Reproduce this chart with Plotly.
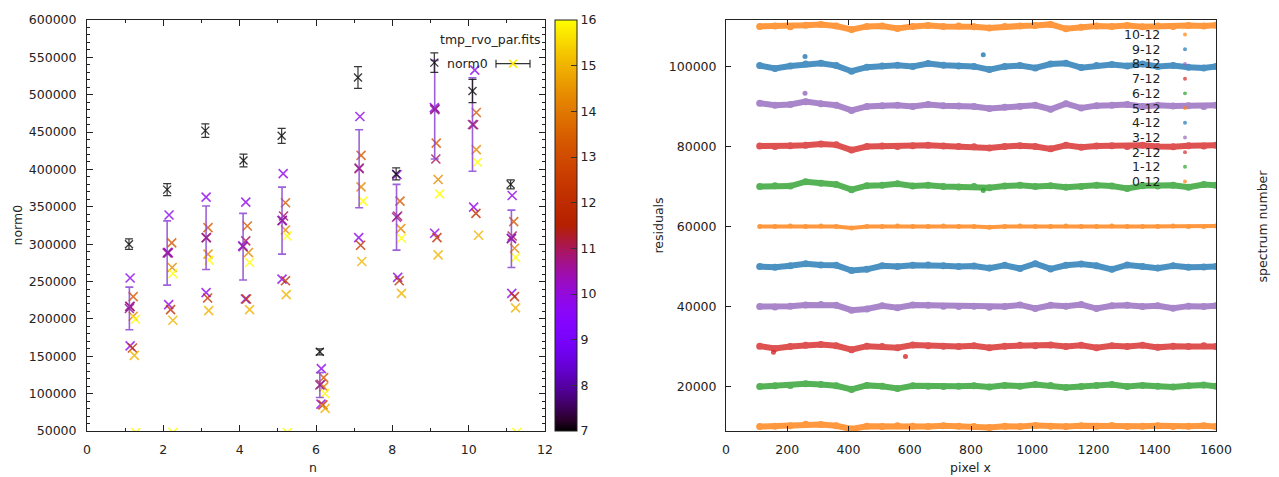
import math
import plotly.graph_objects as go

# ---------------- Left panel data (norm0 vs n) ----------------
norm0_x = [1.1, 2.1, 3.1, 4.1, 5.1, 6.1, 7.1, 8.1, 9.1, 10.1, 11.1]
norm0_y = [300000, 373000, 452000, 412000, 445000, 156000, 523000, 394000, 543000, 505000, 380000]
norm0_err = [7000, 8000, 9000, 8500, 10000, 4000, 14500, 8000, 13000, 15500, 6000]

mean_x = [1.11, 2.10, 3.12, 4.09, 5.11, 6.10, 7.13, 8.11, 9.11, 10.10, 11.12]
mean_y = [214000, 288200, 308600, 296600, 331500, 111500, 400900, 336000, 480000, 460200, 307200]
mean_err = [28500, 43000, 42400, 44600, 44800, 16600, 52200, 44000, 66000, 62600, 38400]

pt_x = [1.13, 1.21, 1.12, 1.13, 1.21, 1.27, 1.13, 1.19, 1.24, 1.28,
        2.15, 2.13, 2.12, 2.22, 2.23, 2.25, 2.14, 2.19, 2.25, 2.25,
        3.12, 3.13, 3.17, 3.17, 3.20, 3.12, 3.16, 3.19,
        4.16, 4.20, 4.16, 4.08, 4.23, 4.26, 4.15, 4.18, 4.26,
        5.14, 5.20, 5.15, 5.12, 5.20, 5.24, 5.11, 5.20, 5.22, 5.25,
        6.14, 6.13, 6.20, 6.20, 6.23, 6.13, 6.18, 6.24,
        7.15, 7.18, 7.13, 7.18, 7.23, 7.12, 7.17, 7.20,
        8.12, 8.20, 8.14, 8.22, 8.24, 8.14, 8.18, 8.24,
        9.10, 9.12, 9.15, 9.14, 9.20, 9.24, 9.11, 9.17, 9.20,
        10.16, 10.20, 10.13, 10.20, 10.23, 10.13, 10.19, 10.26,
        11.14, 11.18, 11.14, 11.12, 11.20, 11.23, 11.13, 11.20, 11.23, 11.26]
pt_y = [254700, 229800, 217000, 216500, 203600, 199600, 164000, 161000, 151200, 48000,
        339000, 288400, 289000, 301700, 268800, 260800, 219100, 212500, 198200, 48000,
        362900, 308800, 322100, 286700, 278600, 235100, 228000, 211100,
        356300, 324300, 304400, 297700, 288800, 275500, 226700, 226700, 212500,
        394500, 355400, 337700, 331900, 319000, 311000, 253300, 251100, 232500, 48000,
        133500, 112600, 121500, 109000, 100200, 86000, 85000, 80200,
        470800, 418900, 402000, 376700, 357600, 308800, 298600, 276800,
        393000, 357600, 337700, 320800, 307900, 255500, 251100, 234200,
        482800, 481000, 435300, 414000, 386500, 367400, 314600, 308800, 285700,
        533000, 476200, 459800, 426500, 409600, 349600, 341300, 312000,
        365200, 330100, 311000, 308000, 294600, 282200, 234200, 229800, 214700, 48000]
pt_c = [9.8, 13.3, 9.8, 11.0, 14.3, 16.0, 9.8, 12.2, 15.0, 16.0,
        9.8, 11.0, 9.8, 13.3, 14.3, 16.0, 9.8, 12.2, 15.0, 16.0,
        9.8, 11.0, 13.3, 14.3, 16.0, 9.8, 12.2, 15.0,
        9.8, 13.3, 11.0, 9.5, 14.3, 16.0, 9.8, 12.2, 15.0,
        9.8, 13.3, 11.0, 9.5, 14.3, 16.0, 9.8, 12.2, 15.0, 16.0,
        9.8, 11.0, 13.3, 14.3, 16.0, 9.8, 12.2, 15.0,
        9.8, 13.3, 11.0, 14.3, 16.0, 9.8, 12.2, 15.0,
        9.8, 13.3, 11.0, 14.3, 16.0, 9.8, 12.2, 15.0,
        9.8, 10.5, 13.3, 11.0, 14.3, 16.0, 9.8, 12.2, 15.0,
        9.8, 13.3, 11.0, 14.3, 16.0, 9.8, 12.2, 15.0,
        9.8, 13.3, 11.0, 9.5, 14.3, 16.0, 9.8, 12.2, 15.0, 16.0]

cbar_ticks = [7, 8, 9, 10, 11, 12, 13, 14, 15, 16]
left_xticks = [0, 2, 4, 6, 8, 10, 12]

# ---------------- Right panel data (residuals) ----------------
pix_x = [110, 160, 210, 260, 310, 360, 410, 460, 510, 560, 610, 660, 710, 760, 810, 860,
         910, 960, 1010, 1060, 1110, 1160, 1210, 1260, 1310, 1360, 1410, 1460, 1510, 1560, 1600]
spec_offsets = [10000, 20000, 30000, 40000, 50000, 60000, 70000, 80000, 90000, 100000, 110000]
spec_labels = ["0-12", "1-12", "2-12", "3-12", "4-12", "5-12", "6-12", "7-12", "8-12", "9-12", "10-12"]
spec_colors = ["#ff7f0e", "#2ca02c", "#d62728", "#9467bd", "#1f77b4",
               "#ff7f0e", "#2ca02c", "#d62728", "#9467bd", "#1f77b4", "#ff7f0e"]
resid0 = [0, 100, 200, 600, 500, 200, -600, 100, 0, 200, 100, 0, 200, 100, 0, -200, 100, 0, 300, 100, 0, 200, 100, 300, 0, 100, 200, 0, 100, 200, 0]
resid1 = [0, 200, 300, 700, 500, 200, -700, 300, 100, -500, 200, 100, 0, 100, 200, -100, 300, 100, 500, 300, -200, 0, 300, 500, 0, 300, 100, -100, 200, 400, 100]
resid2 = [100, -500, 0, 300, 500, 200, -800, 100, 0, -300, 400, 200, 100, 0, 200, -300, 100, 300, 200, 400, 0, 300, -300, 200, 0, 300, -200, 100, 0, 200, 0]
resid3 = [0, -100, 100, 400, 500, 300, -900, -600, 200, -300, 400, 300, 100, 0, 100, -200, 0, 400, -500, 300, 100, 500, -500, 200, 300, 0, 200, -400, 100, 0, 200]
resid4 = [0, -200, 200, 700, 400, 300, -1000, -700, 200, 0, 300, 400, 200, 0, 100, -400, 300, -500, 700, -600, 300, 600, 200, -700, 400, 0, -400, 200, -200, -100, 0]
resid5 = [0, 0, 100, 0, 100, 0, -400, 0, 0, 100, 0, 0, 100, 0, 0, -200, 0, 100, 0, 0, 100, 0, 0, 100, 0, 0, 0, 100, 0, 0, 100]
resid6 = [0, 200, 100, 1200, 800, 500, -800, 200, 300, 700, 100, 300, 0, -100, 0, -300, 100, 300, 0, 200, -200, 0, 300, 100, -500, 200, 100, 300, -200, 500, 300]
resid7 = [100, 0, 200, 300, 600, 400, -900, 0, 100, 0, 200, 300, 100, 0, -100, -400, 0, 200, 0, -600, 300, -200, 100, 200, 0, 300, 0, -100, 200, 100, 300]
resid8 = [800, 300, 500, 1200, 700, 300, -1000, 0, 200, 300, 0, 500, 200, 100, 0, -500, -200, 0, 300, -700, 700, -400, 200, 300, 500, 0, 300, 100, 200, 0, 300]
resid9 = [200, -500, 100, 600, 800, 200, -1200, -200, 100, 300, 0, 700, 300, 100, 0, -800, 0, 200, -400, 600, 800, -300, 200, 500, 100, 600, 0, 200, -200, -400, 0]
resid10 = [0, 100, -100, 300, 500, 100, -800, 0, 100, -500, 0, 200, 0, 100, -100, -400, 0, 100, 200, 500, -600, -200, 100, 0, 200, -100, 100, 0, 200, 100, 300]
residuals = [resid0, resid1, resid2, resid3, resid4, resid5, resid6, resid7, resid8, resid9, resid10]
outlier_x = [155, 586, 840, 258, 840, 258]
outlier_y = [28600, 27500, 69000, 102500, 102900, 93300]
outlier_spec = [2, 2, 6, 9, 9, 8]
right_xticks = [0, 200, 400, 600, 800, 1000, 1200, 1400, 1600]
right_yticks = [20000, 40000, 60000, 80000, 100000]
spec_ticks = [0, 1, 2, 3, 4, 5, 6, 7, 8, 9, 10]

# ---------------- Layout geometry (pixels) ----------------
W, H = 1279, 477
ML, MR, MT, MB = 87, 63, 17, 46
PW, PH = W - ML - MR, H - MT - MB


def px(x):
    return (x - ML) / PW


def py(y):
    return (H - MB - y) / PH


FONT = "DejaVu Sans, Verdana, sans-serif"
TXT = "#222222"


# gnuplot default palette (rgbformulae 7,5,15)
def gp_color(t):
    r = math.sqrt(t)
    g = t ** 3
    b = max(0.0, min(1.0, math.sin(2 * math.pi * t)))
    return "rgb(%d,%d,%d)" % (round(255 * r), round(255 * g), round(255 * b))


gp_scale = [[i / 40, gp_color(i / 40)] for i in range(41)]

fig = go.Figure()

# coloured points
fig.add_trace(go.Scatter(
    x=pt_x, y=pt_y, mode="markers", xaxis="x", yaxis="y", showlegend=False,
    marker=dict(symbol="x-thin-open", size=9, color=pt_c, colorscale=gp_scale,
                cmin=7, cmax=16, opacity=0.8, line=dict(width=1.6),
                colorbar=dict(x=px(555), xanchor="left", y=0.5, yanchor="middle",
                              len=1, lenmode="fraction", thickness=22, xpad=0, ypad=0,
                              outlinewidth=1, outlinecolor="#222",
                              tickvals=cbar_ticks, ticks="inside", ticklen=6,
                              tickcolor="#333", tickwidth=1.2,
                              tickfont=dict(family=FONT, size=12.5, color=TXT)))))

# purple mean errorbars
fig.add_trace(go.Scatter(
    x=mean_x, y=mean_y, mode="markers", xaxis="x", yaxis="y", showlegend=False,
    marker=dict(symbol="x-thin-open", size=9, color="rgba(150,30,150,0.85)", line=dict(width=1.6)),
    error_y=dict(type="data", array=mean_err, color="rgba(140,70,210,0.85)", thickness=1.6, width=4)))

# black norm0 errorbars
fig.add_trace(go.Scatter(
    x=norm0_x, y=norm0_y, mode="markers", xaxis="x", yaxis="y", showlegend=False,
    marker=dict(symbol="x-thin-open", size=8, color="rgba(20,20,20,0.85)", line=dict(width=1.3)),
    error_y=dict(type="data", array=norm0_err, color="rgba(20,20,20,0.85)", thickness=1.2, width=4)))

# residual bands
for k in range(len(spec_offsets)):
    yv = [spec_offsets[k] + d for d in residuals[k]]
    fig.add_trace(go.Scatter(
        x=pix_x, y=yv, mode="lines+markers", xaxis="x2", yaxis="y2", showlegend=False,
        line=dict(color=spec_colors[k], width=4 if k == 5 else 6),
        marker=dict(color=spec_colors[k], size=5 if k == 5 else 7),
        opacity=0.8))

fig.add_trace(go.Scatter(
    x=outlier_x, y=outlier_y, mode="markers", xaxis="x2", yaxis="y2", showlegend=False,
    marker=dict(color=[spec_colors[s] for s in outlier_spec], size=5, opacity=0.8)))

tickfont = dict(family=FONT, size=12.5, color=TXT)
axis_common = dict(showgrid=False, zeroline=False, showline=True, linecolor="#222",
                   linewidth=1, ticks="inside", tickcolor="#222", tickfont=tickfont)


def ann(text, x, y, xanchor="center", angle=0):
    return dict(text=text, x=px(x), y=py(y), xref="paper", yref="paper", showarrow=False,
                xanchor=xanchor, yanchor="middle", textangle=angle,
                font=dict(family=FONT, size=12.5, color=TXT))


annotations = [
    ann("n", 313, 468),
    ann("norm0", 17, 224, angle=-90),
    ann("pixel x", 970, 468),
    ann("residuals", 658, 224, angle=-90),
    ann("spectrum number", 1262, 224, angle=-90),
    ann("tmp_rvo_par.fits", 543, 37, xanchor="right"),
    ann("norm0", 490, 61, xanchor="right"),
]

shapes = []
# left legend sample: horizontal errorbar with yellow cross
lc = "rgba(30,30,30,0.9)"
shapes.append(dict(type="line", xref="paper", yref="paper", x0=px(496), x1=px(530),
                   y0=py(61), y1=py(61), line=dict(color=lc, width=1.2)))
for xx in (496, 530):
    shapes.append(dict(type="line", xref="paper", yref="paper", x0=px(xx), x1=px(xx),
                       y0=py(57), y1=py(65), line=dict(color=lc, width=1.2)))
shapes.append(dict(type="line", xref="paper", yref="paper", x0=px(509), x1=px(517),
                   y0=py(57), y1=py(65), line=dict(color="#ffe600", width=1.6)))
shapes.append(dict(type="line", xref="paper", yref="paper", x0=px(509), x1=px(517),
                   y0=py(65), y1=py(57), line=dict(color="#ffe600", width=1.6)))

# right legend (text right-aligned, dot sample on the right)
for i, k in enumerate(range(len(spec_labels) - 1, -1, -1)):
    yrow = 31.7 + 14.8 * i
    annotations.append(ann(spec_labels[k], 1162, yrow, xanchor="right"))
    shapes.append(dict(type="circle", xref="paper", yref="paper",
                       x0=px(1183), x1=px(1187), y0=py(yrow + 2), y1=py(yrow - 2),
                       fillcolor=spec_colors[k], line=dict(width=0), opacity=0.7))

fig.update_layout(
    width=W, height=H, margin=dict(l=ML, r=MR, t=MT, b=MB, pad=0),
    paper_bgcolor="white", plot_bgcolor="white", showlegend=False,
    font=dict(family=FONT, size=12.5, color=TXT),
    xaxis=dict(domain=[0, px(545)], range=[0, 12], anchor="y", tickvals=left_xticks,
               ticklen=6, mirror="allticks", ticklabelstandoff=7,
               minor=dict(dtick=1, tick0=0, ticks="inside", ticklen=3, tickcolor="#222"),
               **axis_common),
    yaxis=dict(domain=[0, 1], range=[50000, 600000], anchor="x", dtick=50000, tick0=0,
               tickformat="d", ticklen=6, mirror="allticks", ticklabelstandoff=7,
               minor=dict(dtick=10000, tick0=0, ticks="inside", ticklen=3, tickcolor="#222"),
               **axis_common),
    xaxis2=dict(domain=[px(726), 1], range=[0, 1600], anchor="y2", tickvals=right_xticks,
                ticklen=5, mirror="allticks", ticklabelstandoff=7, **axis_common),
    yaxis2=dict(domain=[0, 1], range=[8900, 111600], anchor="x2", tickvals=right_yticks,
                tickformat="d", ticklen=5, mirror=True, ticklabelstandoff=6, **axis_common),
    yaxis3=dict(overlaying="y2", anchor="x2", side="right", range=[-0.11, 10.16],
                tickvals=spec_ticks, ticklen=5, showgrid=False, zeroline=False,
                showline=False, ticks="inside", tickcolor="#222", tickfont=tickfont,
                ticklabelstandoff=6),
    annotations=annotations, shapes=shapes,
)

fig.write_html("out.html")
